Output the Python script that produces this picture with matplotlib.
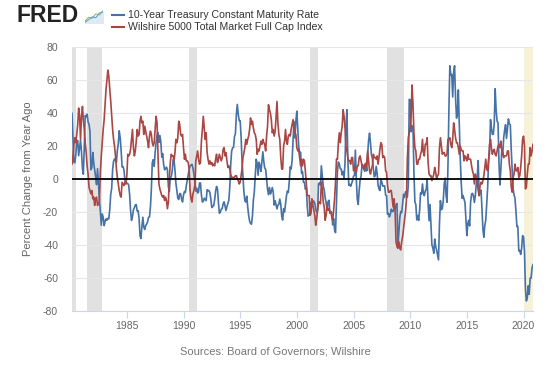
import matplotlib
matplotlib.use("Agg")
import matplotlib.pyplot as plt
import pandas as pd
from matplotlib.lines import Line2D

plt.rcParams['font.family'] = ['Liberation Sans', 'DejaVu Sans']

# monthly, percent change from year ago, Mar 1980 .. Nov 2020
treasury = [
    39.8, 24.9, 10.1, 9.8, 14.5, 22.9, 23.4, 14.1, 19.1, 23.6,                          # 1980
    16.4, 6.3, 2.9, 19.3, 38.5, 37.7, 39.3, 34.6, 33.1, 28.9, 5.6, 6.9,                  # 1981
    16.1, 9.4, 5.6, 1.4, -3.4, 6.2, -2.3, -12.6, -19.5, -28.0, -21.2, -23.2,             # 1982
    -28.3, -25.7, -24.2, -25.0, -23.8, -24.1, -18.4, -9.3, -5.6, 5.8, 10.8, 12.2,        # 1983
    11.6, 10.4, 17.2, 21.4, 29.2, 25.0, 17.4, 7.3, 7.5, 5.4, -1.0, -2.8,                 # 1984
    -2.5, -2.8, -3.7, -9.5, -19.1, -25.1, -22.8, -18.8, -17.2, -15.8, -15.5, -19.5,      # 1985
    -19.2, -24.4, -34.4, -36.1, -28.9, -23.2, -29.2, -30.6, -28.2, -27.4, -25.9, -23.2,  # 1986
    -23.0, -16.7, -6.8, 9.9, 11.7, 7.7, 15.8, 22.2, 26.4, 28.1, 22.2, 26.4,              # 1987
    22.5, 13.2, 15.4, 8.7, 5.6, 6.2, 7.2, 5.7, -4.7, -7.6, 1.1, 1.3,                     # 1988
    4.8, 11.7, 11.8, 5.3, -2.5, -7.2, -11.5, -12.4, -8.8, -9.0, -12.2, -13.9,            # 1989
    -9.7, -7.6, -8.2, -4.2, -1.1, 2.4, 5.6, 7.9, 8.5, 8.9, 6.6, 3.1,                     # 1990
    -1.5, -7.3, -5.6, -8.5, -7.9, -2.4, -2.4, -9.7, -13.9, -13.6, -11.6, -12.3,          # 1991
    -13.1, -6.5, -7.0, -7.0, -8.4, -12.3, -17.3, -16.6, -16.1, -12.5, -7.4, -4.5,        # 1992
    -6.1, -14.7, -20.7, -20.2, -18.3, -17.9, -15.1, -13.8, -16.5, -19.1, -16.7, -14.8,   # 1993
    -12.9, -4.6, 8.4, 16.8, 18.9, 19.1, 25.6, 27.5, 39.2, 45.2, 39.2, 35.4,              # 1994
    35.3, 25.1, 11.1, 1.3, -7.7, -13.1, -14.0, -10.4, -16.9, -22.0, -25.5, -26.9,        # 1995
    -27.4, -22.2, -12.9, -7.8, 1.7, 12.0, 9.4, 2.3, 10.2, 8.1, 4.6, 10.3,                # 1996
    16.5, 10.5, 6.7, 5.8, -0.4, -6.1, -9.5, -5.1, -9.1, -7.7, -5.2, -7.8,                # 1997
    -15.8, -13.2, -15.5, -18.1, -15.8, -15.3, -12.2, -15.2, -22.5, -24.9, -17.9, -20.0,  # 1998
    -14.8, -10.2, -7.4, -8.2, -1.9, 7.3, 6.0, 11.2, 23.1, 34.9, 24.8, 35.1,              # 1999
    41.1, 30.4, 19.7, 15.6, 16.2, 3.4, 4.5, -1.9, -2.0, -6.1, -5.1, -16.6,               # 2000
    -22.5, -21.8, -21.9, -14.2, -16.3, -13.4, -13.4, -14.8, -18.4, -20.4, -18.7, -2.9,   # 2001
    -2.3, -3.7, 8.0, 1.4, -4.3, -6.6, -11.3, -14.3, -18.2, -13.8, -12.9, -20.8,          # 2002
    -19.6, -20.6, -27.8, -24.0, -30.8, -32.5, -14.4, 4.5, 10.3, 8.9, 6.2, 6.0,           # 2003
    2.5, 4.6, 0.5, 9.8, 32.2, 42.0, 13.1, -3.8, -3.3, -4.4, -2.6, -0.9,                  # 2004
    1.7, 2.2, 17.5, -0.2, -12.3, -15.4, -7.1, -0.5, 1.7, 8.8, 8.4, 5.7,                  # 2005
    4.7, 9.6, 4.9, 15.0, 23.4, 27.8, 21.8, 14.6, 12.4, 6.1, 1.3, 2.0,                    # 2006
    7.7, 3.3, -3.4, -6.0, -7.0, -0.2, -1.8, -4.3, -4.2, -4.2, -9.8, -10.1,               # 2007
    -21.4, -20.8, -23.0, -21.5, -18.3, -19.6, -19.8, -16.7, -18.4, -15.9, -14.9, -41.0,  # 2008
    -32.6, -23.3, -19.7, -20.4, -15.2, -9.3, -11.2, -7.7, -7.9, -11.0, -3.7, 48.3,       # 2009
    48.0, 28.6, 32.3, 31.4, 4.0, -14.0, -15.4, -24.8, -22.1, -25.1, -18.8, -8.4,         # 2010
    -9.1, -3.0, -8.6, -10.1, -7.3, -6.3, -0.3, -14.8, -25.3, -15.4, -27.2, -39.8,        # 2011
    -41.9, -45.0, -36.4, -40.8, -43.2, -46.0, -49.0, -27.0, -13.1, -18.6, -17.9, -13.1,  # 2012
    -3.0, 0.5, -9.7, -14.1, 7.2, 42.0, 68.6, 63.1, 63.4, 49.7, 64.8, 68.6,               # 2013
    49.7, 36.9, 38.8, 54.0, 32.6, 13.0, -1.6, -11.7, -10.0, -12.2, -14.3, -23.8,         # 2014
    -34.3, -26.9, -25.0, -28.4, -14.1, -9.2, -8.7, -10.3, -14.2, -10.0, -3.0, 1.4,       # 2015
    11.2, -10.1, -7.4, -6.7, -17.7, -30.5, -35.3, -28.1, -24.9, -15.0, -5.3, 11.2,       # 2016
    16.3, 36.0, 31.2, 27.1, 27.1, 33.5, 54.7, 41.7, 35.0, 34.1, 9.8, -3.6,               # 2017
    6.2, 18.2, 14.5, 24.8, 29.6, 32.9, 24.6, 30.8, 36.4, 33.5, 32.8, 17.9,               # 2018
    5.0, -6.3, -9.5, -11.8, -19.5, -28.9, -28.7, -43.6, -43.3, -45.7, -42.0, -34.3,      # 2019
    -35.1, -44.0, -66.1, -73.9, -72.1, -64.7, -69.9, -60.1, -60.0, -53.8, -51.9,         # 2020
]

wilshire = [
    9, 14, 21, 25, 22, 27, 33, 43, 38, 24,                  # 1980
    38, 44, 36, 30, 22, 16, 8, 3, -5, -7, -9, -7,           # 1981
    -12, -11, -16, -12, -11, -16, -15, -13, 4, 14, 22, 30,  # 1982
    36, 45, 54, 60, 66, 62, 55, 47, 38, 30, 24, 20,         # 1983
    14, 6, 1, -3, -7, -10, -11, -2, -3, -4, -2, -3,         # 1984
    2, 15, 14, 15, 18, 24, 30, 19, 14, 17, 23, 30,          # 1985
    26, 27, 35, 38, 34, 35, 27, 32, 29, 26, 23, 19,         # 1986
    26, 29, 27, 22, 20, 22, 30, 38, 34, 16, -3, -6,         # 1987
    -8, -10, -11, -10, -13, -11, -13, -18, -14, 0, 10, 15,  # 1988
    14, 14, 11, 16, 24, 22, 25, 35, 33, 27, 26, 27,         # 1989
    19, 12, 15, 11, 11, 10, 6, -7, -12, -14, -9, -7,        # 1990
    -4, 11, 14, 17, 12, 9, 10, 23, 30, 38, 31, 24,          # 1991
    28, 16, 12, 9, 11, 9, 10, 8, 9, 8, 12, 15,              # 1992
    10, 12, 15, 13, 11, 13, 18, 19, 14, 16, 11, 7,          # 1993
    8, 6, 3, 1, 1, 1, 1, 2, 2, 0, -1, -3,                   # 1994
    -2, 2, 6, 13, 16, 19, 24, 21, 24, 26, 30, 37,           # 1995
    33, 35, 31, 28, 27, 24, 15, 18, 17, 20, 23, 21,         # 1996
    24, 22, 21, 17, 26, 32, 45, 42, 40, 36, 28, 30,         # 1997
    26, 29, 37, 47, 34, 27, 24, 13, 6, 6, 20, 23,           # 1998
    30, 23, 21, 26, 27, 26, 30, 33, 36, 30, 28, 27,         # 1999
    19, 17, 18, 13, 8, 12, 8, 12, 11, 5, -3, -10,           # 2000
    -10, -10, -22, -21, -12, -16, -19, -22, -28, -24, -19, -14,  # 2001
    -14, -15, -2, -6, -14, -17, -25, -22, -16, -19, -18, -20,    # 2002
    -20, -23, -25, -19, -12, -2, 12, 12, 22, 28, 22, 28,    # 2003
    32, 42, 38, 31, 20, 17, 13, 11, 11, 9, 13, 13,          # 2004
    5, 6, 7, 4, 8, 8, 13, 14, 11, 8, 7, 6,                  # 2005
    9, 7, 10, 17, 11, 5, 3, 6, 8, 15, 13, 13,               # 2006
    12, 14, 9, 13, 18, 22, 21, 13, 14, 13, 5, 4,            # 2007
    -4, -8, -8, -7, -7, -12, -17, -12, -19, -38, -41, -42,  # 2008
    -38, -42, -43, -38, -35, -30, -25, -20, -13, 12, 25, 28,  # 2009
    32, 39, 57, 45, 28, 19, 17, 9, 9, 12, 12, 15,           # 2010
    17, 24, 16, 14, 21, 21, 25, 10, 3, 2, 2, -1,            # 2011
    1, 3, 7, 4, 0, 2, 3, 19, 25, 20, 15, 16,                # 2012
    16, 14, 14, 15, 24, 24, 25, 21, 19, 24, 34, 30,         # 2013
    25, 22, 22, 19, 15, 20, 18, 17, 17, 11, 14, 13,         # 2014
    11, 15, 12, 12, 12, 8, 5, 3, -3, 3, 1, -1,              # 2015
    -7, -10, -4, -2, -3, -1, 2, 7, 12, 6, 5, 11,            # 2016
    21, 24, 19, 15, 17, 18, 15, 14, 17, 20, 21, 19,         # 2017
    23, 17, 15, 13, 14, 14, 14, 17, 17, 9, 5, -5,           # 2018
    -8, 1, 3, 9, 5, 5, 7, 1, 2, 7, 14, 24,                  # 2019
    26, 20, -6, -5, 3, 9, 9, 19, 14, 17, 21,                # 2020
]

recessions = [("1980-01-01", "1980-07-01"), ("1981-07-01", "1982-11-01"),
              ("1990-07-01", "1991-03-01"), ("2001-03-01", "2001-11-01"),
              ("2007-12-01", "2009-06-01")]
recent_recession = ("2020-02-01", "2020-11-01")

series_names = ["10-Year Treasury Constant Maturity Rate",
                "Wilshire 5000 Total Market Full Cap Index"]
tick_years = list(range(1985, 2021, 5))
y_ticks = list(range(-80, 81, 20))

dates = pd.date_range("1980-03-01", periods=len(treasury), freq="MS")

W, H = 553, 367
fig = plt.figure(figsize=(W / 100, H / 100), dpi=100)


def fx(px):
    return px / W


def fy(py):
    return 1 - py / H


ax = fig.add_axes([fx(72), fy(311), fx(533) - fx(72), fy(47) - fy(311)])

for a, b in recessions:
    ax.axvspan(pd.Timestamp(a), pd.Timestamp(b), color="#e1e1e1", lw=0, zorder=0)
ax.axvspan(pd.Timestamp(recent_recession[0]), pd.Timestamp(recent_recession[1]),
           color="#f5f2d9", lw=0, zorder=0)

ax.plot(dates, treasury, color="#4572a7", lw=1.2, zorder=2)
ax.plot(dates, wilshire, color="#aa4643", lw=1.2, zorder=2)
ax.axhline(0, color="black", lw=1.3, zorder=3)

ax.set_xlim(dates[0], dates[-1])
ax.set_ylim(-80, 80)
ax.set_yticks(y_ticks)
ax.set_yticklabels([str(v) for v in y_ticks])
ax.set_xticks([pd.Timestamp(f"{y}-01-01") for y in tick_years])
ax.set_xticklabels([str(y) for y in tick_years])
ax.grid(axis="y", color="#e6e6e6", lw=0.8, zorder=1)
ax.set_axisbelow(True)
for s in ["top", "right", "left"]:
    ax.spines[s].set_visible(False)
ax.spines["bottom"].set_color("#ccd6eb")
ax.spines["bottom"].set_linewidth(0.8)
ax.tick_params(axis="y", length=0, pad=10, labelsize=7.5, labelcolor="#666666")
ax.tick_params(axis="x", length=5, width=0.8, color="#ccd6eb", pad=2,
               labelsize=7.5, labelcolor="#666666")

fig.text(fx(28), fy(179), "Percent Change from Year Ago", rotation=90,
         ha="center", va="center", fontsize=8, color="#666666")
fig.text(fx(275), fy(352), "Sources: Board of Governors; Wilshire",
         ha="center", va="center", fontsize=8, color="#777777")

# header: FRED logo + legend
fig.text(fx(16), fy(16), "FRED", ha="left", va="center", fontsize=16.5,
         fontweight="bold", color="#222222")
icon = fig.add_axes([fx(85), fy(23), fx(18), fy(0) - fy(13)])
icon.plot([0, 1, 2, 3, 4, 5], [0.5, 1.5, 1.2, 2.4, 2.1, 3.2], color="#8fc45a", lw=0.8)
icon.plot([0, 1, 2, 3, 4, 5], [0.2, 0.9, 1.6, 1.4, 2.6, 2.9], color="#6b9bd1", lw=0.8)
icon.fill_between([0, 1, 2, 3, 4, 5], 0, [0.2, 0.9, 1.2, 1.4, 2.1, 2.9],
                  color="#dde9f5")
icon.set_xlim(0, 5)
icon.set_ylim(0, 3.4)
icon.axis("off")

for i, (name, col) in enumerate(zip(series_names, ["#4572a7", "#aa4643"])):
    yy = fy(15 + 12 * i)
    fig.add_artist(Line2D([fx(112), fx(124)], [yy, yy], color=col, lw=1.5))
    fig.text(fx(128), yy, name, ha="left", va="center", fontsize=7.6,
             color="#333333")

fig.savefig("out.png", dpi=100)
